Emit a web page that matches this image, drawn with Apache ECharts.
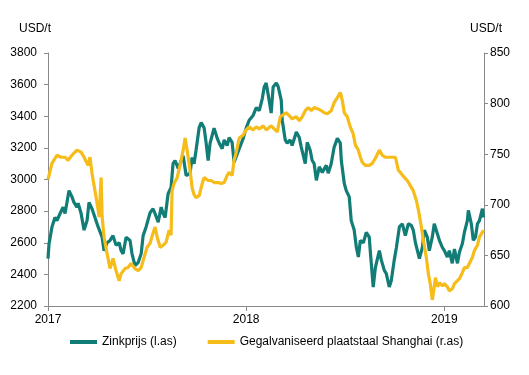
<!DOCTYPE html>
<html>
<head>
<meta charset="utf-8">
<script src="https://cdn.jsdelivr.net/npm/echarts@6/dist/echarts.min.js"></script>
<style>
  html, body { margin: 0; padding: 0; background: #fff; }
  #chart { width: 529px; height: 375px; }
</style>
</head>
<body>
<div id="chart"></div>
<script>
// zinkprijs (linker as, USD/t), tijd in jaren
var zincYears = [
  2017.000, 2017.005, 2017.020, 2017.035, 2017.045, 2017.061, 2017.076, 2017.086, 2017.106, 2017.121,
  2017.131, 2017.146, 2017.152, 2017.167, 2017.182, 2017.197, 2017.207, 2017.222, 2017.237, 2017.253,
  2017.273, 2017.283, 2017.298, 2017.313, 2017.328, 2017.343, 2017.359, 2017.369, 2017.379, 2017.394,
  2017.414, 2017.424, 2017.439, 2017.455, 2017.470, 2017.480, 2017.495, 2017.515, 2017.530, 2017.540,
  2017.556, 2017.571, 2017.581, 2017.591, 2017.606, 2017.621, 2017.631, 2017.641, 2017.657, 2017.672,
  2017.682, 2017.697, 2017.717, 2017.727, 2017.737, 2017.747, 2017.763, 2017.773, 2017.788, 2017.798,
  2017.808, 2017.818, 2017.838, 2017.854, 2017.864, 2017.879, 2017.889, 2017.904, 2017.914, 2017.929,
  2017.939, 2017.949, 2017.965, 2017.985, 2018.000, 2018.015, 2018.035, 2018.051, 2018.066, 2018.081,
  2018.091, 2018.101, 2018.116, 2018.126, 2018.136, 2018.152, 2018.162, 2018.177, 2018.182, 2018.197,
  2018.207, 2018.222, 2018.232, 2018.253, 2018.268, 2018.278, 2018.298, 2018.308, 2018.323, 2018.333,
  2018.343, 2018.354, 2018.369, 2018.384, 2018.404, 2018.414, 2018.429, 2018.444, 2018.460, 2018.475,
  2018.480, 2018.495, 2018.505, 2018.520, 2018.530, 2018.545, 2018.556, 2018.566, 2018.576, 2018.591,
  2018.606, 2018.621, 2018.626, 2018.641, 2018.652, 2018.672, 2018.682, 2018.697, 2018.707, 2018.722,
  2018.732, 2018.747, 2018.758, 2018.773, 2018.788, 2018.803, 2018.818, 2018.833, 2018.843, 2018.854,
  2018.864, 2018.874, 2018.889, 2018.899, 2018.914, 2018.924, 2018.939, 2018.949, 2018.965, 2018.975,
  2018.990, 2019.000, 2019.015, 2019.025, 2019.040, 2019.051, 2019.066, 2019.076, 2019.091, 2019.101,
  2019.116, 2019.121, 2019.136, 2019.146, 2019.157, 2019.167, 2019.177, 2019.192, 2019.197
];
var zincPrices = [
  2500, 2590, 2700, 2760, 2740, 2785, 2825, 2785, 2930, 2890,
  2855, 2825, 2850, 2785, 2680, 2740, 2855, 2815, 2760, 2700,
  2635, 2550, 2600, 2615, 2645, 2585, 2600, 2550, 2530, 2635,
  2615, 2530, 2455, 2475, 2530, 2645, 2700, 2790, 2815, 2785,
  2730, 2825, 2785, 2760, 2910, 2950, 3100, 3120, 3070, 3120,
  3150, 3025, 3040, 3140, 3100, 3185, 3330, 3360, 3325, 3230,
  3120, 3230, 3325, 3260, 3230, 3195, 3250, 3215, 3265, 3235,
  3110, 3100, 3195, 3260, 3325, 3375, 3405, 3455, 3435, 3510,
  3585, 3610, 3500, 3420, 3585, 3610, 3585, 3500, 3375, 3250,
  3230, 3250, 3215, 3300, 3265, 3205, 3100, 3235, 3185, 3120,
  3100, 2995, 3080, 3045, 3090, 3040, 3100, 3205, 3260, 3230,
  3120, 2975, 2930, 2890, 2740, 2680, 2570, 2510, 2615, 2600,
  2665, 2635, 2550, 2320, 2445, 2550, 2490, 2425, 2405, 2320,
  2360, 2490, 2570, 2700, 2720, 2645, 2720, 2710, 2680, 2600,
  2550, 2500, 2570, 2680, 2635, 2550, 2635, 2720, 2655, 2615,
  2570, 2550, 2510, 2550, 2470, 2560, 2470, 2540, 2595, 2665,
  2740, 2805, 2720, 2615, 2635, 2720, 2740, 2815, 2760
];

// gegalvaniseerd plaatstaal Shanghai (rechter as, USD/t)
var steelYears = [
  2017.000, 2017.020, 2017.045, 2017.066, 2017.086, 2017.101, 2017.121, 2017.146, 2017.167, 2017.182,
  2017.202, 2017.212, 2017.222, 2017.237, 2017.253, 2017.258, 2017.268, 2017.273, 2017.283, 2017.298,
  2017.313, 2017.328, 2017.343, 2017.359, 2017.369, 2017.389, 2017.404, 2017.419, 2017.439, 2017.455,
  2017.470, 2017.485, 2017.500, 2017.515, 2017.530, 2017.540, 2017.551, 2017.566, 2017.581, 2017.596,
  2017.611, 2017.621, 2017.626, 2017.636, 2017.652, 2017.672, 2017.682, 2017.692, 2017.702, 2017.717,
  2017.727, 2017.737, 2017.747, 2017.763, 2017.778, 2017.788, 2017.808, 2017.823, 2017.838, 2017.859,
  2017.874, 2017.889, 2017.904, 2017.914, 2017.929, 2017.939, 2017.949, 2017.965, 2017.985, 2018.000,
  2018.015, 2018.035, 2018.051, 2018.066, 2018.086, 2018.101, 2018.126, 2018.141, 2018.157, 2018.172,
  2018.182, 2018.202, 2018.217, 2018.232, 2018.253, 2018.268, 2018.283, 2018.298, 2018.313, 2018.328,
  2018.343, 2018.359, 2018.379, 2018.394, 2018.409, 2018.429, 2018.444, 2018.460, 2018.475, 2018.485,
  2018.495, 2018.510, 2018.525, 2018.540, 2018.551, 2018.566, 2018.576, 2018.586, 2018.601, 2018.621,
  2018.636, 2018.652, 2018.672, 2018.687, 2018.702, 2018.722, 2018.737, 2018.753, 2018.768, 2018.778,
  2018.798, 2018.813, 2018.828, 2018.843, 2018.859, 2018.869, 2018.884, 2018.894, 2018.909, 2018.919,
  2018.929, 2018.939, 2018.944, 2018.955, 2018.965, 2018.975, 2018.990, 2019.000, 2019.015, 2019.025,
  2019.040, 2019.051, 2019.066, 2019.076, 2019.091, 2019.101, 2019.116, 2019.126, 2019.141, 2019.152,
  2019.167, 2019.177, 2019.192, 2019.197
];
var steelPrices = [
  725, 741, 749, 747, 747, 744, 749, 754, 752, 747,
  739, 747, 731, 714, 695, 688, 727, 688, 668, 652,
  637, 647, 635, 625, 632, 637, 638, 642, 637, 635,
  638, 648, 658, 662, 672, 678, 668, 658, 660, 663,
  675, 670, 714, 721, 727, 744, 754, 766, 754, 734,
  717, 710, 707, 709, 721, 727, 724, 724, 722, 722,
  721, 722, 729, 732, 729, 744, 751, 766, 769, 774,
  777, 774, 777, 775, 778, 774, 778, 775, 772, 787,
  788, 791, 788, 785, 787, 783, 787, 793, 796, 793,
  796, 795, 793, 791, 790, 793, 801, 806, 811, 803,
  791, 787, 777, 770, 759, 754, 747, 742, 739, 739,
  741, 746, 754, 749, 747, 747, 747, 747, 734, 732,
  727, 724, 719, 714, 704, 695, 678, 665, 648, 632,
  622, 606, 612, 628, 619, 623, 620, 622, 619, 615,
  617, 622, 625, 627, 633, 638, 638, 642, 648, 655,
  660, 668, 673, 675
];

var leftTicks = { min: 2200, max: 3800, interval: 200 };
var rightTicks = { min: 600, max: 850, interval: 50 };

function pairs(xs, ys) {
  return xs.map(function (x, i) { return [x, ys[i]]; });
}

var chart = echarts.init(document.getElementById('chart'));
var axisColor = '#898989';
var textStyle = { color: '#000', fontFamily: 'Liberation Sans, Arial', fontSize: 12 };

chart.setOption({
  animation: false,
  textStyle: textStyle,
  grid: { left: 48, right: 45, top: 53, bottom: 69 },
  legend: {
    left: 70,
    top: 336,
    padding: 0,
    icon: 'rect',
    itemWidth: 27,
    itemHeight: 4,
    itemGap: 31,
    textStyle: textStyle,
    data: ['Zinkprijs (l.as)', 'Gegalvaniseerd plaatstaal Shanghai (r.as)']
  },
  xAxis: {
    type: 'value',
    min: 2017,
    max: 2019.2,
    interval: 1,
    splitLine: { show: false },
    axisLine: { lineStyle: { color: axisColor } },
    axisTick: { length: 5, lineStyle: { color: axisColor } },
    axisLabel: {
      margin: 8,
      showMaxLabel: false,
      color: '#000',
      fontSize: 12,
      formatter: function (v) { return String(Math.round(v)); }
    }
  },
  yAxis: [{
    type: 'value',
    position: 'left',
    min: leftTicks.min,
    max: leftTicks.max,
    interval: leftTicks.interval,
    name: 'USD/t',
    nameGap: 18,
    nameTextStyle: { color: '#000', fontSize: 12, padding: [0, 26, 0, 0] },
    splitLine: { show: false },
    axisLine: { show: true, lineStyle: { color: axisColor } },
    axisTick: { show: true, length: 4, lineStyle: { color: axisColor } },
    axisLabel: {
      margin: 11,
      color: '#000',
      fontSize: 12,
      formatter: function (v) { return String(v); }
    }
  }, {
    type: 'value',
    position: 'right',
    min: rightTicks.min,
    max: rightTicks.max,
    interval: rightTicks.interval,
    name: 'USD/t',
    nameGap: 18,
    nameTextStyle: { color: '#000', fontSize: 12, padding: [0, 0, 0, 4] },
    splitLine: { show: false },
    axisLine: { show: true, lineStyle: { color: axisColor } },
    axisTick: { show: true, length: 4, lineStyle: { color: axisColor } },
    axisLabel: {
      margin: 6,
      color: '#000',
      fontSize: 12,
      formatter: function (v) { return String(v); }
    }
  }],
  series: [{
    name: 'Zinkprijs (l.as)',
    type: 'line',
    yAxisIndex: 0,
    showSymbol: false,
    data: pairs(zincYears, zincPrices),
    itemStyle: { color: '#127d77' },
    lineStyle: { width: 3.2, color: '#127d77' }
  }, {
    name: 'Gegalvaniseerd plaatstaal Shanghai (r.as)',
    type: 'line',
    yAxisIndex: 1,
    showSymbol: false,
    data: pairs(steelYears, steelPrices),
    itemStyle: { color: '#f6bc1a' },
    lineStyle: { width: 3.2, color: '#f6bc1a' }
  }]
});
</script>
</body>
</html>
